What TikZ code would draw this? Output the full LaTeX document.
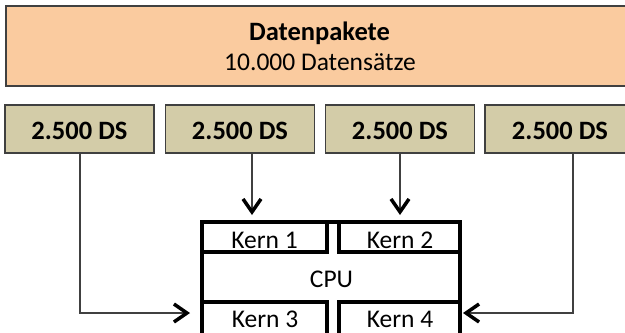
\documentclass[tikz,border=0pt]{standalone}
\usepackage{fontspec}
\setmainfont{Carlito}
\usetikzlibrary{arrows.meta}
\definecolor{peach}{HTML}{FACB9F}
\definecolor{khaki}{HTML}{D3CCA8}
\definecolor{edge}{HTML}{404040}
\begin{document}
\begin{tikzpicture}[x=1bp,y=-1bp,
  every node/.style={inner sep=0pt, outer sep=0pt},
  bigfont/.style={font=\fontsize{25.5bp}{31bp}\selectfont},
  boldfont/.style={font=\fontsize{26.5bp}{31bp}\selectfont\bfseries},
  topbox/.style={draw=edge, line width=1.5bp, fill=peach, minimum width=627bp, minimum height=80bp},
  dsbox/.style={draw=edge, line width=1.5bp, fill=khaki, minimum width=149bp, minimum height=48bp,
    boldfont, text height=20bp, text depth=0bp},
  cpubox/.style={draw=black, line width=3.5bp},
  kernbox/.style={draw=black, line width=3.5bp, minimum height=30bp},
  lbl/.style={bigfont, anchor=base},
  flow/.style={draw=edge, line width=2bp, line cap=butt,
    -{Straight Barb[length=13bp, width=18bp, line width=3.5bp, color=black]}}]
\useasboundingbox (0,0) rectangle (625,332);
\clip (0,0) rectangle (625,332);

% top box
\node[topbox] (top) at (319.5,46) {};
\node[lbl, boldfont] (title) at (319.5,40) {Datenpakete};
\node[lbl] (subtitle) at (320,70.5) {10.000 Datensätze};

% data boxes
\node[dsbox] (ds1) at (79.5,129) {2.500 DS};
\node[dsbox] (ds2) at (240,129) {2.500 DS};
\node[dsbox] (ds3) at (400,129) {2.500 DS};
\node[dsbox, minimum width=150bp] (ds4) at (560,129) {2.500 DS};

% CPU
\node[cpubox, minimum width=258bp, minimum height=140bp] (cpu) at (331,292) {};
\node[kernbox, minimum width=125bp] (k1) at (264.5,237) {};
\node[kernbox, minimum width=121bp] (k2) at (399.5,237) {};
\node[kernbox, minimum width=125bp, minimum height=40bp] (k3) at (264.5,322) {};
\node[kernbox, minimum width=121bp, minimum height=40bp] (k4) at (399.5,322) {};
\node[lbl] (k1t) at (264.5,248) {Kern 1};
\node[lbl] (k2t) at (400,248) {Kern 2};
\node[lbl] (cput) at (331.5,287.5) {CPU};
\node[lbl] (k3t) at (265,327.5) {Kern 3};
\node[lbl] (k4t) at (400,327.5) {Kern 4};

% arrows
\coordinate (inL) at (190,313);
\coordinate (inR) at (463,313);
\coordinate (in2) at (252,215);
\coordinate (in3) at (400,215);
\coordinate (out4) at (573,153);
\draw[flow] (ds1.south) |- (inL);
\draw[flow] (in2 |- ds2.south) -- (in2);
\draw[flow] (ds3.south) -- (in3);
\draw[flow] (out4) |- (inR);
\end{tikzpicture}
\end{document}
